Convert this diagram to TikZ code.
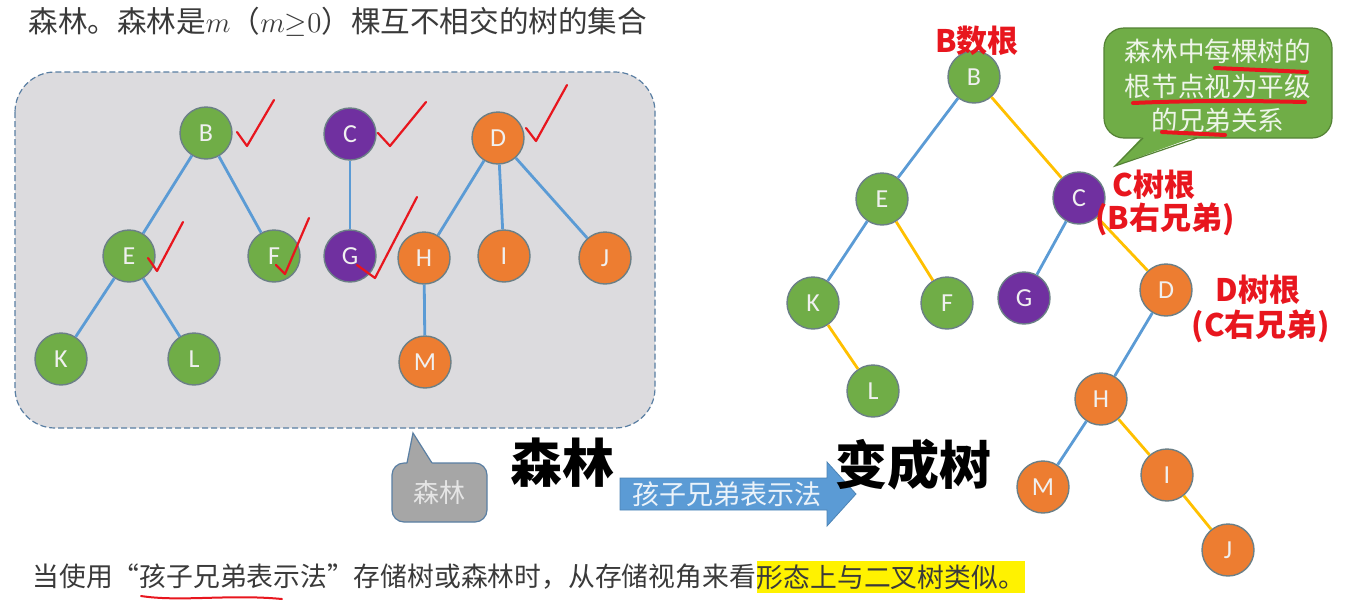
\documentclass[tikz,border=0pt]{standalone}
\usepackage{fontspec}
\usepackage{xcolor}
\newfontfamily\cjk{Noto Sans CJK SC}
\newfontfamily\letterfont{Carlito}

\definecolor{treegreen}{HTML}{70AD47}
\definecolor{treepurple}{HTML}{7030A0}
\definecolor{treeorange}{HTML}{ED7D31}
\definecolor{linkblue}{HTML}{5B9BD5}
\definecolor{linkyellow}{HTML}{FFC000}
\definecolor{boxgray}{HTML}{DCDBDE}
\definecolor{boxline}{HTML}{5A7FA3}
\definecolor{tagred}{HTML}{E8161E}
\definecolor{textgray}{HTML}{3A3A3A}
\definecolor{tipgray}{HTML}{A6A6A6}
\definecolor{nodeedge}{HTML}{6B7F86}

\begin{document}
\begin{tikzpicture}[x=0.5pt, y=-0.5pt,
  tnode/.style={circle, minimum size=26pt, inner sep=0pt, draw=nodeedge, line width=0.7pt,
    text=white!94!black, font=\letterfont\fontsize{13}{13}\selectfont},
  gnode/.style={tnode, fill=treegreen},
  pnode/.style={tnode, fill=treepurple},
  onode/.style={tnode, fill=treeorange},
  blue link/.style={linkblue, line width=1.4pt},
  yellow link/.style={linkyellow, line width=1.4pt},
  check/.style={tagred, line width=1.1pt, line join=round, line cap=round},
  redtag/.style={tagred, inner sep=0pt, font=\cjk\bfseries\fontsize{15.5}{17}\selectfont}]
\fill[white] (0,0) rectangle (1360,612);
\useasboundingbox (0,0) rectangle (1360,612);

% Title
\node[anchor=west, inner sep=0pt, text=textgray, font=\cjk\fontsize{14.8}{18}\selectfont] (title) at (28,22)
  {森林。森林是$m$（${m}{\geq}0$）棵互不相交的树的集合};

% Forest
\draw[boxline, fill=boxgray, dashed, dash pattern=on 3pt off 1.5pt, line width=0.6pt, rounded corners=20pt]
  (15,72) rectangle (655,428);
\node[gnode] (lB) at (206,133) {B};
\node[pnode] (lC) at (350,134) {C};
\node[onode] (lD) at (498,138) {D};
\node[gnode] (lE) at (129,256) {E};
\node[gnode] (lF) at (274,256) {F};
\node[pnode] (lG) at (350,256) {G};
\node[onode] (lH) at (424,258) {H};
\node[onode] (lI) at (504,256) {I};
\node[onode] (lJ) at (605,258) {J};
\node[gnode] (lK) at (61,359) {K};
\node[gnode] (lL) at (194,359) {L};
\node[onode] (lM) at (425,362) {M};
\foreach \a/\b in {lB/lE, lB/lF, lE/lK, lE/lL, lC/lG, lD/lH, lD/lI, lD/lJ, lH/lM}
  \draw[blue link] (\a) -- (\b);

% Checks
\draw[check] (237,132) -- (247,146) -- (274,100);
\draw[check] (378,133) -- (390,146) -- (426,102);
\draw[check] (526,128) -- (536,141) -- (567,85);
\draw[check] (148,258) -- (157,271) -- (183,222);
\draw[check] (276,265) -- (285,274) -- (309,218);
\draw[check] (357,265) -- (375,278) -- (417,197);

% Callout
\draw[boxline, fill=tipgray, line width=0.6pt, rounded corners=6pt] (392,463) rectangle (487,522);
\fill[tipgray] (407,465) -- (413,433) -- (433,465) -- cycle;
\draw[boxline, line width=0.6pt] (407,463) -- (413,433) -- (432,463);
\node[text=white!90!black, font=\cjk\fontsize{13}{13}\selectfont] (tipforest) at (439,493) {森林};

% Arrow
\node[font=\cjk\bfseries\fontsize{26}{26}\selectfont] (forest) at (562,463) {森林};
\draw[linkblue!85!black, fill=linkblue, line width=0.4pt]
  (620,478) -- (827,478) -- (827,462) -- (856,494) -- (827,526) -- (827,510) -- (620,510) -- cycle;
\node[text=white!88!linkblue, font=\cjk\fontsize{13.5}{14}\selectfont] (method) at (727,494) {孩子兄弟表示法};
\node[font=\cjk\bfseries\fontsize{26}{26}\selectfont] (tree) at (913,465) {变成树};

% Binary tree
\node[gnode] (rB) at (974,77) {B};
\node[gnode] (rE) at (882,199) {E};
\node[pnode] (rC) at (1079,198) {C};
\node[gnode] (rK) at (813,303) {K};
\node[gnode] (rF) at (947,303) {F};
\node[pnode] (rG) at (1024,298) {G};
\node[onode] (rD) at (1166,290) {D};
\node[gnode] (rL) at (873,391) {L};
\node[onode] (rH) at (1101,399) {H};
\node[onode] (rM) at (1043,487) {M};
\node[onode] (rI) at (1167,475) {I};
\node[onode] (rJ) at (1228,550) {J};
\foreach \a/\b in {rB/rE, rE/rK, rC/rG, rD/rH, rH/rM}
  \draw[blue link] (\a) -- (\b);
\foreach \a/\b in {rB/rC, rE/rF, rK/rL, rC/rD, rH/rI, rI/rJ}
  \draw[yellow link] (\a) -- (\b);

% Root tags
\node[redtag] (tagB) at (977,41) {B数根};
\node[redtag] (tagC) at (1154,185) {C树根};
\node[redtag] (tagCb) at (1165,219) {(B右兄弟)};
\node[redtag] (tagD) at (1258,290) {D树根};
\node[redtag] (tagDc) at (1261,326) {(C右兄弟)};

% Note
\draw[treegreen!75!black, fill=treegreen, line width=0.6pt, rounded corners=10pt] (1104,28) rectangle (1332,138);
\fill[treegreen] (1143,136) -- (1115,166) -- (1197,136) -- cycle;
\draw[treegreen!75!black, line width=0.6pt] (1143,138) -- (1115,166) -- (1197,138);
\node[text=white!88!treegreen, align=center, font=\cjk\fontsize{13.3}{17.3}\selectfont] (note) at (1218,86)
  {森林中每棵树的\\根节点视为平级\\的兄弟关系};
\draw[tagred, line width=2pt, line cap=round] (1215,68) -- (1307,72);
\draw[tagred, line width=2pt, line cap=round] (1133,103) .. controls (1200,100) and (1260,101) .. (1305,102);
\draw[tagred, line width=2pt, line cap=round] (1162,132) -- (1225,135);

% Bottom line
\node[anchor=west, inner sep=0pt, text=textgray, font=\cjk\fontsize{13.4}{16}\selectfont] (usage) at (32,577)
  {当使用“孩子兄弟表示法”存储树或森林时，从存储视角来看};
\node[anchor=west, inner xsep=0pt, inner ysep=2pt, fill=yellow, text=textgray, font=\cjk\fontsize{13.4}{16}\selectfont] (alike) at (usage.east)
  {形态上与二叉树类似。};
\draw[tagred, line width=1pt, line cap=round] (141,596) .. controls (180,602) and (230,594) .. (282,599);
\end{tikzpicture}
\end{document}
